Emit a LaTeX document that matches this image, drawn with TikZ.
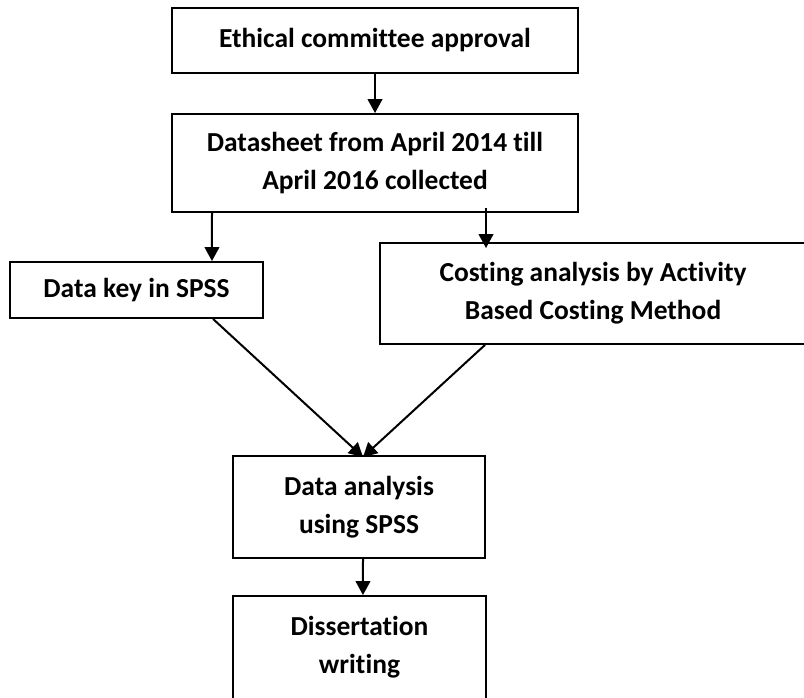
\documentclass[tikz,border=0pt]{standalone}
\usepackage{fontspec}
\setmainfont{Carlito}[RawFeature=-liga]
\usetikzlibrary{arrows.meta}
\begin{document}
\begin{tikzpicture}[x=0.75pt,y=-0.75pt,
  box/.style={draw=black,line width=1.4pt,rectangle,inner sep=0pt,align=center,
    font=\fontsize{20.6}{28.5}\selectfont\bfseries},
  arr/.style={line width=1.5pt,-{Triangle[length=10.5pt,width=11pt]}}]
\useasboundingbox (0,0) rectangle (804,698);
\node[box,minimum width=304.5pt,minimum height=48.75pt] (B1) at (375,40.5) {Ethical committee approval};
\node[box,minimum width=304.5pt,minimum height=73.5pt] (B2) at (375,163) {Datasheet from April 2014 till\\April 2016 collected};
\node[box,minimum width=189.75pt,minimum height=42pt] (B3) at (136.5,290) {Data key in SPSS};
\node[box,minimum width=319.5pt,minimum height=75.75pt] (B4) at (593,293.5) {Costing analysis by Activity\\Based Costing Method};
\node[box,minimum width=189pt,minimum height=76.5pt] (B5) at (359,507) {Data analysis\\using SPSS};
\node[box,minimum width=189.75pt,minimum height=77.25pt] (B6) at (359.5,647.5) {Dissertation\\writing};
\draw[arr] (B1.south) -- (B2.north);
\draw[arr] ([xshift=-122.25pt]B2.south) -- ([xshift=56.6pt]B3.north);
\draw[arr] ([xshift=83.25pt,yshift=3.75pt]B2.south) -- ([xshift=-80.25pt,yshift=-4.5pt]B4.north);
\draw[arr] ([xshift=57.4pt]B3.south) -- ([xshift=3pt,yshift=-1.5pt]B5.north);
\draw[arr] ([xshift=-81pt]B4.south) -- ([xshift=3pt,yshift=-1.5pt]B5.north);
\draw[arr] ([xshift=3pt]B5.south) -- ([xshift=2.6pt]B6.north);
\end{tikzpicture}
\end{document}
